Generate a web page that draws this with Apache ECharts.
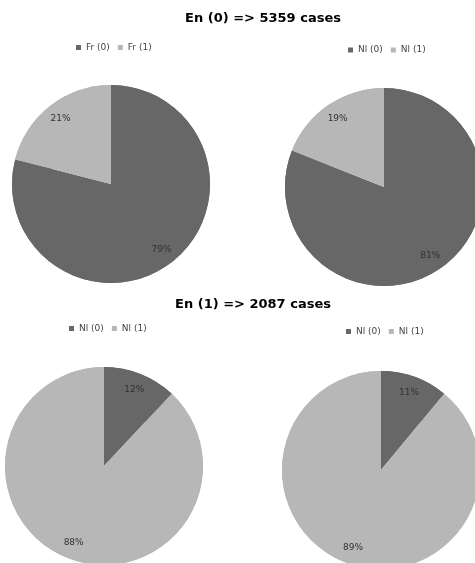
<!DOCTYPE html>
<html>
<head>
<meta charset="utf-8">
<script src="https://cdn.jsdelivr.net/npm/echarts@6/dist/echarts.min.js"></script>
<style>html,body{margin:0;padding:0;background:#fff}#c{width:475px;height:563px}</style>
</head>
<body>
<div id="c"></div>
<script>
const titles = ['En (0) => 5359 cases', 'En (1) => 2087 cases'];
const namesFr = ['Fr (0)', 'Fr (1)'];
const namesNl = ['Nl (0)', 'Nl (1)'];
const topLeftValues = [79, 21];
const topRightValues = [81, 19];
const bottomLeftValues = [12, 88];
const bottomRightValues = [11, 89];

const colors = ['#676767', '#b7b7b7'];
const font = 'DejaVu Sans';

const pies = [
  { names: namesFr, values: topLeftValues, center: [111, 184], legend: [76, 48.5] },
  { names: namesNl, values: topRightValues, center: [384, 187], legend: [348, 51] },
  { names: namesNl, values: bottomLeftValues, center: [104, 466], legend: [69, 329.5] },
  { names: namesNl, values: bottomRightValues, center: [381, 470], legend: [346, 332.5] }
];

const R = 99;
const series = [];
const legends = [];
pies.forEach(p => {
  const data = p.names.map((n, i) => ({ name: n, value: p.values[i], itemStyle: { color: colors[i] } }));
  series.push({
    type: 'pie', center: p.center, radius: [0, R], startAngle: 90, clockwise: true,
    silent: true, label: { show: false }, labelLine: { show: false },
    itemStyle: { borderWidth: 0 }, data: data
  });
  series.push({
    type: 'pie', center: p.center, radius: [60, R], startAngle: 90, clockwise: true,
    silent: true,
    label: { show: true, position: 'inside', formatter: '{c}%', color: '#333', fontSize: 9, fontFamily: font },
    labelLine: { show: false },
    itemStyle: { borderWidth: 0 }, data: data
  });
  legends.push({
    left: p.legend[0], top: p.legend[1] - 5.5, orient: 'horizontal', padding: 0,
    itemWidth: 5, itemHeight: 5, itemGap: 8, icon: 'rect',
    textStyle: { fontSize: 9, fontFamily: font, color: '#444' },
    data: p.names, selectedMode: false
  });
});

const chart = echarts.init(document.getElementById('c'), null, { renderer: 'canvas' });
chart.setOption({
  animation: false,
  backgroundColor: '#fff',
  title: [
    { text: titles[0], left: 258, top: 7, textAlign: 'center', textStyle: { fontSize: 13, fontWeight: 'bold', fontFamily: font, color: '#000' } },
    { text: titles[1], left: 248, top: 293, textAlign: 'center', textStyle: { fontSize: 13, fontWeight: 'bold', fontFamily: font, color: '#000' } }
  ],
  legend: legends,
  series: series
});
</script>
</body>
</html>
